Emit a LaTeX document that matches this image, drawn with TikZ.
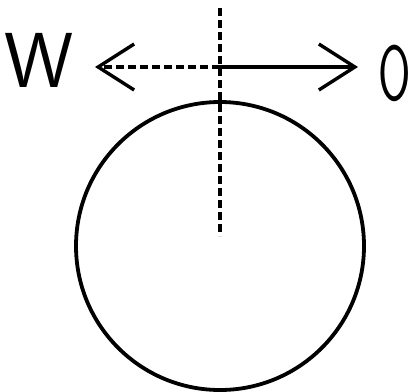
\documentclass[tikz,border=0pt]{standalone}
\usetikzlibrary{arrows.meta}
\tikzset{
  dirlbl/.style={font=\sffamily\fontsize{78}{78}\selectfont, inner sep=0pt},
  axisline/.style={line width=3.4pt, dash pattern=on 8pt off 4pt},
  fullline/.style={line width=3.4pt},
  ring/.style={circle, draw, line width=3.8pt, minimum size=288pt, inner sep=0pt},
  barb/.style={-{Straight Barb[length=36pt, width=46pt]}}
}
\begin{document}
\begin{tikzpicture}[x=1pt, y=-1pt]
  \useasboundingbox (0,0) rectangle (414,391);
  % direction labels
  \node[dirlbl] (w) at (39,60) {W};
  \node[dirlbl] (o) at (395,73) {\scalebox{0.6}[1]{O}};
  % the disc
  \node[ring] (disc) at (220,246) {};
  \coordinate (top) at (220,8);
  \coordinate (mid) at (220,236);
  \coordinate (cross) at (220,67);
  \coordinate (wend) at (95,67);
  \coordinate (oend) at (358,67);
  \draw[axisline] (top) -- (mid);
  \draw[axisline, barb] (cross) -- (wend);
  \draw[fullline, barb] (cross) -- (oend);
\end{tikzpicture}
\end{document}
